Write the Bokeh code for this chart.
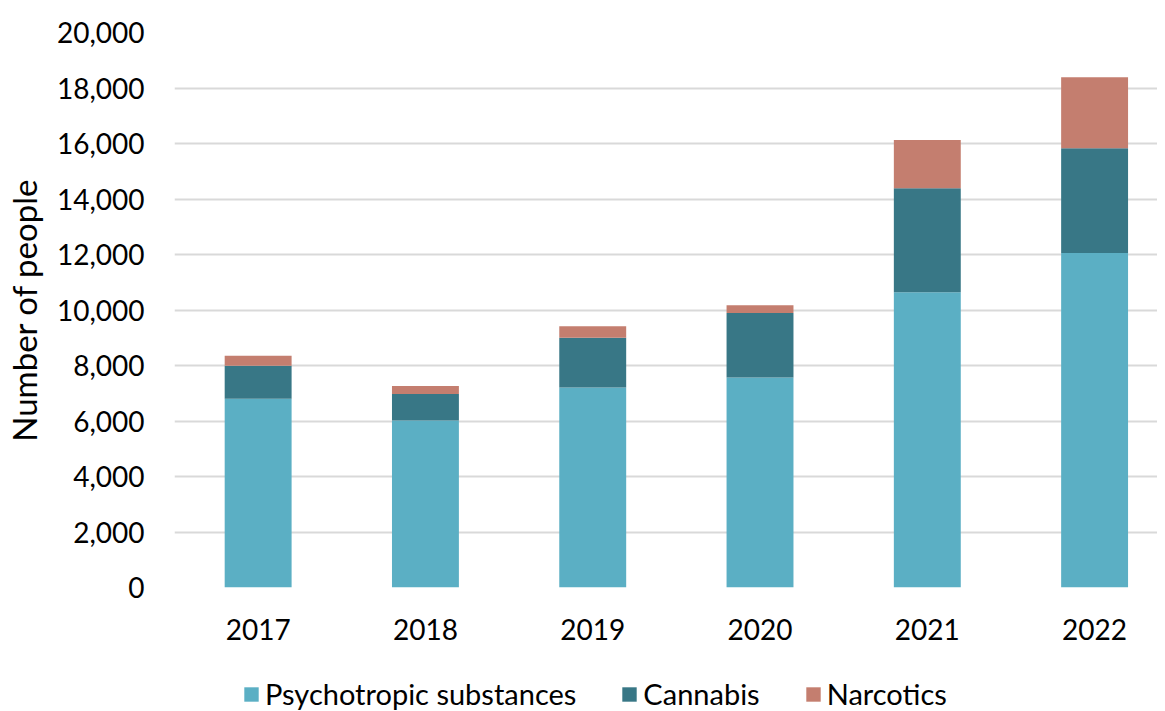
import numpy as np
from bokeh.plotting import figure
from bokeh.layouts import column
from bokeh.models import ColumnDataSource, Range1d, FixedTicker, Legend, LegendItem, NumeralTickFormatter
from bokeh.embed import file_html
from bokeh.resources import INLINE

years = ["2017", "2018", "2019", "2020", "2021", "2022"]
psychotropic = [6800, 6020, 7210, 7570, 10640, 12050]
cannabis = [1190, 950, 1790, 2320, 3750, 3780]
narcotics = [360, 290, 410, 280, 1740, 2560]
series = ["Psychotropic substances", "Cannabis", "Narcotics"]
colors = ["#5BAFC4", "#387786", "#C47E6F"]

x = list(range(len(years)))
src = ColumnDataSource(dict(x=x, psychotropic=psychotropic, cannabis=cannabis, narcotics=narcotics))
stack_cols = ["psychotropic", "cannabis", "narcotics"]

FONT = "Lato"
p = figure(width=1157, height=651, output_backend="svg", toolbar_location=None,
           x_range=Range1d(-0.5, 5.376), y_range=Range1d(0, 20000),
           min_border_left=174, min_border_top=32, min_border_right=0, min_border_bottom=64)
p.outline_line_color = None

p.vbar_stack(stack_cols, x="x", width=0.4, source=src, color=colors, line_color=None)

p.xaxis.ticker = FixedTicker(ticks=x)
p.xaxis.major_label_overrides = {i: y for i, y in enumerate(years)}
p.xaxis.axis_line_color = None
p.xaxis.major_tick_line_color = None
p.xaxis.major_tick_out = 0
p.xaxis.major_tick_in = 0
p.xaxis.minor_tick_line_color = None
p.xaxis.major_label_text_font = FONT
p.xaxis.major_label_text_font_size = "28px"
p.xaxis.major_label_text_color = "#000000"
p.xaxis.major_label_standoff = 31
p.xgrid.grid_line_color = None

p.yaxis.ticker = FixedTicker(ticks=list(range(0, 20001, 2000)))
p.yaxis.formatter = NumeralTickFormatter(format="0,0")
p.yaxis.axis_line_color = None
p.yaxis.major_tick_line_color = None
p.yaxis.major_tick_out = 0
p.yaxis.major_tick_in = 0
p.yaxis.minor_tick_line_color = None
p.yaxis.major_label_text_font = FONT
p.yaxis.major_label_text_font_size = "28px"
p.yaxis.major_label_text_color = "#000000"
p.yaxis.major_label_standoff = 30
p.yaxis.axis_label = "Number of people"
p.yaxis.axis_label_text_font = FONT
p.yaxis.axis_label_text_font_size = "33px"
p.yaxis.axis_label_text_font_style = "normal"
p.yaxis.axis_label_text_color = "#000000"
p.yaxis.axis_label_standoff = 10
p.ygrid.grid_line_color = "#D9D9D9"
p.ygrid.grid_line_width = 2

# legend strip below the chart (its bars fall far outside its y range, so only the legend shows)
lf = figure(width=1157, height=60, output_backend="svg", toolbar_location=None,
            x_range=Range1d(-0.5, 5.376), y_range=Range1d(100000, 100001),
            x_axis_type=None, y_axis_type=None, min_border=0)
lf.outline_line_color = None
lf.xgrid.grid_line_color = None
lf.ygrid.grid_line_color = None
lrs = lf.vbar_stack(stack_cols, x="x", width=0.4, source=src, color=colors, line_color=None)
legend = Legend(items=[LegendItem(label=s, renderers=[r]) for s, r in zip(series, lrs)],
                orientation="horizontal", location=(68, 0),
                label_text_font=FONT, label_text_font_size="29px", label_text_color="#000000",
                glyph_width=18, glyph_height=18, label_standoff=5, spacing=44,
                border_line_color=None, background_fill_alpha=0, padding=0, margin=0)
lf.add_layout(legend, "center")

layout = column(p, lf, spacing=0)
open("out.html", "w").write(file_html(layout, INLINE))
